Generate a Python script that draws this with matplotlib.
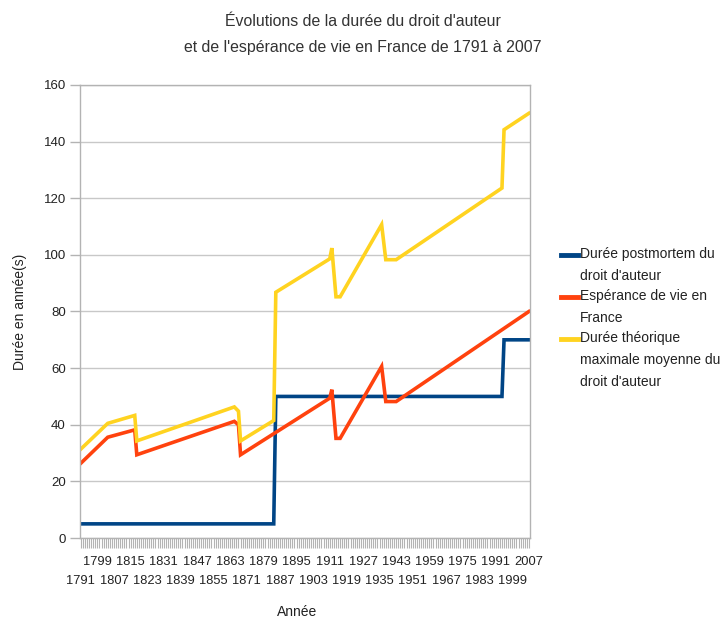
import matplotlib.pyplot as plt
from matplotlib.lines import Line2D
from matplotlib.ticker import FixedLocator, MultipleLocator

plt.rcParams['font.family'] = ['Liberation Sans', 'DejaVu Sans']

# Breakpoints (year, value); lines are straight between them
blue_years = [1791, 1884, 1885, 1994, 1995, 2007]
blue_vals = [5, 5, 50, 50, 70, 70]

red_years = [1791, 1804, 1817, 1818, 1865, 1867, 1868, 1911, 1912, 1914, 1916,
             1936, 1938, 1943, 2007]
red_vals = [26.4, 35.6, 38.2, 29.4, 41.2, 40.0, 29.4, 49.4, 52.4, 35.2, 35.2,
            60.6, 48.2, 48.2, 80.0]

yellow_years = [1791, 1804, 1817, 1818, 1865, 1867, 1868, 1884, 1885, 1911, 1912,
                1914, 1916, 1936, 1938, 1943, 1994, 1995, 2007]
yellow_vals = [31.4, 40.5, 43.3, 34.3, 46.3, 44.8, 34.3, 41.5, 86.8, 98.6, 102.4,
               85.2, 85.2, 110.7, 98.3, 98.3, 123.6, 144.2, 150.0]

labels = ["Durée postmortem du\ndroit d'auteur",
          "Espérance de vie en\nFrance",
          "Durée théorique\nmaximale moyenne du\ndroit d'auteur"]
colors = ['#004586', '#ff420e', '#ffd320']

tick_years = list(range(1791, 2008, 8))

fig = plt.figure(figsize=(7.25, 6.23), dpi=100)
ax = fig.add_axes([0.110, 0.1364, 0.621, 0.7272])

lw = 2.6
ax.plot(blue_years, blue_vals, color=colors[0], lw=lw, solid_joinstyle='miter')
ax.plot(red_years, red_vals, color=colors[1], lw=lw, solid_joinstyle='miter')
ax.plot(yellow_years, yellow_vals, color=colors[2], lw=lw, solid_joinstyle='miter')

ax.set_xlim(1790.5, 2007.5)
ax.set_ylim(0, 160)
ax.set_yticks(range(0, 161, 20))
ax.yaxis.grid(True, color='#c8c8c8', lw=1)
ax.set_axisbelow(True)
for s in ax.spines.values():
    s.set_color('#b3b3b3')
    s.set_linewidth(1)

# one tick per year, labels every 8 years on two staggered rows
ax.xaxis.set_major_locator(FixedLocator(tick_years))
ax.xaxis.set_minor_locator(MultipleLocator(1))
ax.set_xticklabels([])
for i, y in enumerate(tick_years):
    off = -43 if i % 2 == 0 else -24
    ax.annotate(str(y), xy=(y, 0), xycoords=('data', 'axes fraction'),
                xytext=(0, off), textcoords='offset pixels',
                ha='center', va='center', fontsize=9.3, color='#222222',
                annotation_clip=False)
ax.tick_params(axis='x', which='both', length=7, width=0.8, color='#b3b3b3')
ax.tick_params(axis='y', length=7, width=1, color='#b3b3b3', labelsize=9.5,
               pad=3, labelcolor='#222222')

ax.set_xlabel('Année', fontsize=10, color='#222222')
ax.xaxis.set_label_coords(0.482, -0.148)
ax.set_ylabel('Durée en année(s)', fontsize=10, color='#222222', labelpad=12)

fig.text(0.5, 0.978, "Évolutions de la durée du droit d'auteur\n"
         "et de l'espérance de vie en France de 1791 à 2007",
         ha='center', va='top', fontsize=11.4, color='#333333', linespacing=1.95)

# legend, handle aligned with the first line of each label
W, H = 725, 623
for lab, c, yp in zip(labels, colors, [255, 297, 339]):
    fig.add_artist(Line2D([561 / W, 578 / W], [1 - yp / H, 1 - yp / H],
                          color=c, lw=3.5, transform=fig.transFigure))
    fig.text(580 / W, 1 - (yp - 8) / H, lab, ha='left', va='top', fontsize=10,
             color='#222222', linespacing=1.72)

fig.savefig('out.png', dpi=100)
